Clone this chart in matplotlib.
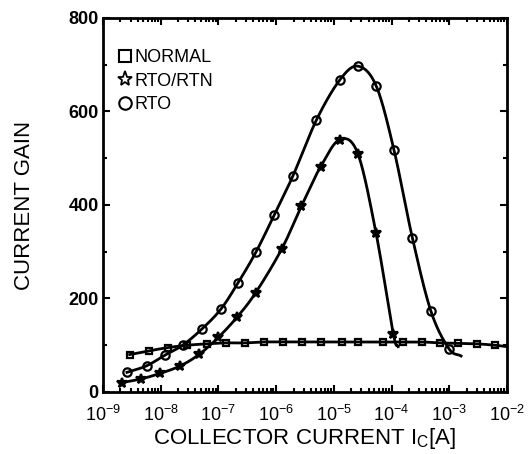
import numpy as np
import matplotlib.pyplot as plt
from matplotlib.lines import Line2D

# collector current [A] and current gain
normal_x = [2.9e-9, 6.3e-9, 1.34e-8, 2.9e-8, 6.3e-8, 1.35e-7, 2.9e-7, 6.2e-7, 1.32e-6,
            2.8e-6, 6.0e-6, 1.36e-5, 2.6e-5, 7.1e-5, 1.58e-4, 3.4e-4, 6.9e-4, 1.42e-3,
            3.0e-3, 6.2e-3]
normal_y = [80, 88, 95, 100, 103, 105, 105, 107, 107, 107, 107, 107, 107, 107, 107, 107,
            105, 104, 103, 100]
normal_tail = (1e-2, 97)

rto_x = [2.6e-9, 5.7e-9, 1.19e-8, 2.4e-8, 5.1e-8, 1.1e-7, 2.2e-7, 4.5e-7, 9.3e-7,
         1.95e-6, 5.0e-6, 1.26e-5, 2.6e-5, 5.4e-5, 1.1e-4, 2.3e-4, 4.8e-4, 9.8e-4]
rto_y = [42, 56, 79, 100, 134, 177, 234, 300, 379, 462, 582, 667, 697, 655, 518, 329,
         173, 93]
rto_tail = (1.6e-3, 77)

rtn_x = [2.1e-9, 4.6e-9, 9.9e-9, 2.2e-8, 4.7e-8, 1.0e-7, 2.1e-7, 4.4e-7, 1.24e-6,
         2.75e-6, 5.9e-6, 1.27e-5, 2.6e-5, 5.4e-5, 1.07e-4]
rtn_y = [20, 28, 40, 56, 81, 117, 160, 212, 305, 398, 482, 540, 510, 339, 125]
rtn_tail = (1.3e-4, 97)


def smooth(xs, ys, n=30):
    # catmull-rom through the points, in log10(x)
    lx = np.log10(xs)
    ys = np.asarray(ys, float)
    px = np.concatenate([[2 * lx[0] - lx[1]], lx, [2 * lx[-1] - lx[-2]]])
    py = np.concatenate([[2 * ys[0] - ys[1]], ys, [2 * ys[-1] - ys[-2]]])
    ox, oy = [], []
    t = np.linspace(0, 1, n, endpoint=False)
    for i in range(1, len(px) - 2):
        for p, out in ((px, ox), (py, oy)):
            p0, p1, p2, p3 = p[i - 1], p[i], p[i + 1], p[i + 2]
            out.extend(0.5 * (2 * p1 + (-p0 + p2) * t + (2 * p0 - 5 * p1 + 4 * p2 - p3) * t ** 2
                              + (-p0 + 3 * p1 - 3 * p2 + p3) * t ** 3))
    ox.append(lx[-1])
    oy.append(ys[-1])
    return 10 ** np.array(ox), np.array(oy)


plt.rcParams['font.family'] = ['Liberation Sans', 'DejaVu Sans']
fig = plt.figure(figsize=(5.32, 4.54), dpi=100)
ax = fig.add_axes([0.1936, 0.1366, 0.7594, 0.8238])

for xs, ys, tail, mk, ms, fc in [(normal_x, normal_y, normal_tail, 's', 5, 'none'),
                                  (rtn_x, rtn_y, rtn_tail, '*', 7, 'black'),
                                  (rto_x, rto_y, rto_tail, 'o', 6, 'none')]:
    cx, cy = smooth(list(xs) + [tail[0]], list(ys) + [tail[1]])
    ax.plot(cx, cy, color='black', lw=2)
    ax.plot(xs, ys, ls='none', marker=mk, ms=ms, mfc=fc, mec='black', mew=1.6)

ax.set_xscale('log')
ax.set_xlim(1e-9, 1e-2)
ax.set_ylim(0, 800)
ax.set_yticks([0, 200, 400, 600, 800])
ax.set_yticks([100, 300, 500, 700], minor=True)
ax.tick_params(which='both', direction='in', top=True, right=True, width=1.5)
ax.tick_params(which='major', length=5, labelsize=13)
ax.tick_params(which='minor', length=3)
ax.tick_params(axis='x', which='major', pad=9)
ax.tick_params(axis='y', which='major', pad=3)
for lab in ax.get_yticklabels():
    lab.set_fontweight('bold')
for s in ax.spines.values():
    s.set_linewidth(2)

ax.set_xlabel('COLLECTOR CURRENT I$_\\mathregular{C}$[A]', fontsize=16, labelpad=1)
ax.set_ylabel('CURRENT GAIN', fontsize=16, labelpad=24)

handles = [Line2D([], [], ls='none', marker='s', ms=8, mfc='none', mec='black', mew=1.5),
           Line2D([], [], ls='none', marker='*', ms=11, mfc='none', mec='black', mew=1.3),
           Line2D([], [], ls='none', marker='o', ms=9, mfc='none', mec='black', mew=1.5)]
ax.legend(handles, ['NORMAL', 'RTO/RTN', 'RTO'], loc='upper left', frameon=False,
          fontsize=13, handlelength=0.6, handletextpad=0.2, labelspacing=0.35,
          borderaxespad=0.3, bbox_to_anchor=(0.01, 0.95))

fig.savefig('out.png', dpi=100)
